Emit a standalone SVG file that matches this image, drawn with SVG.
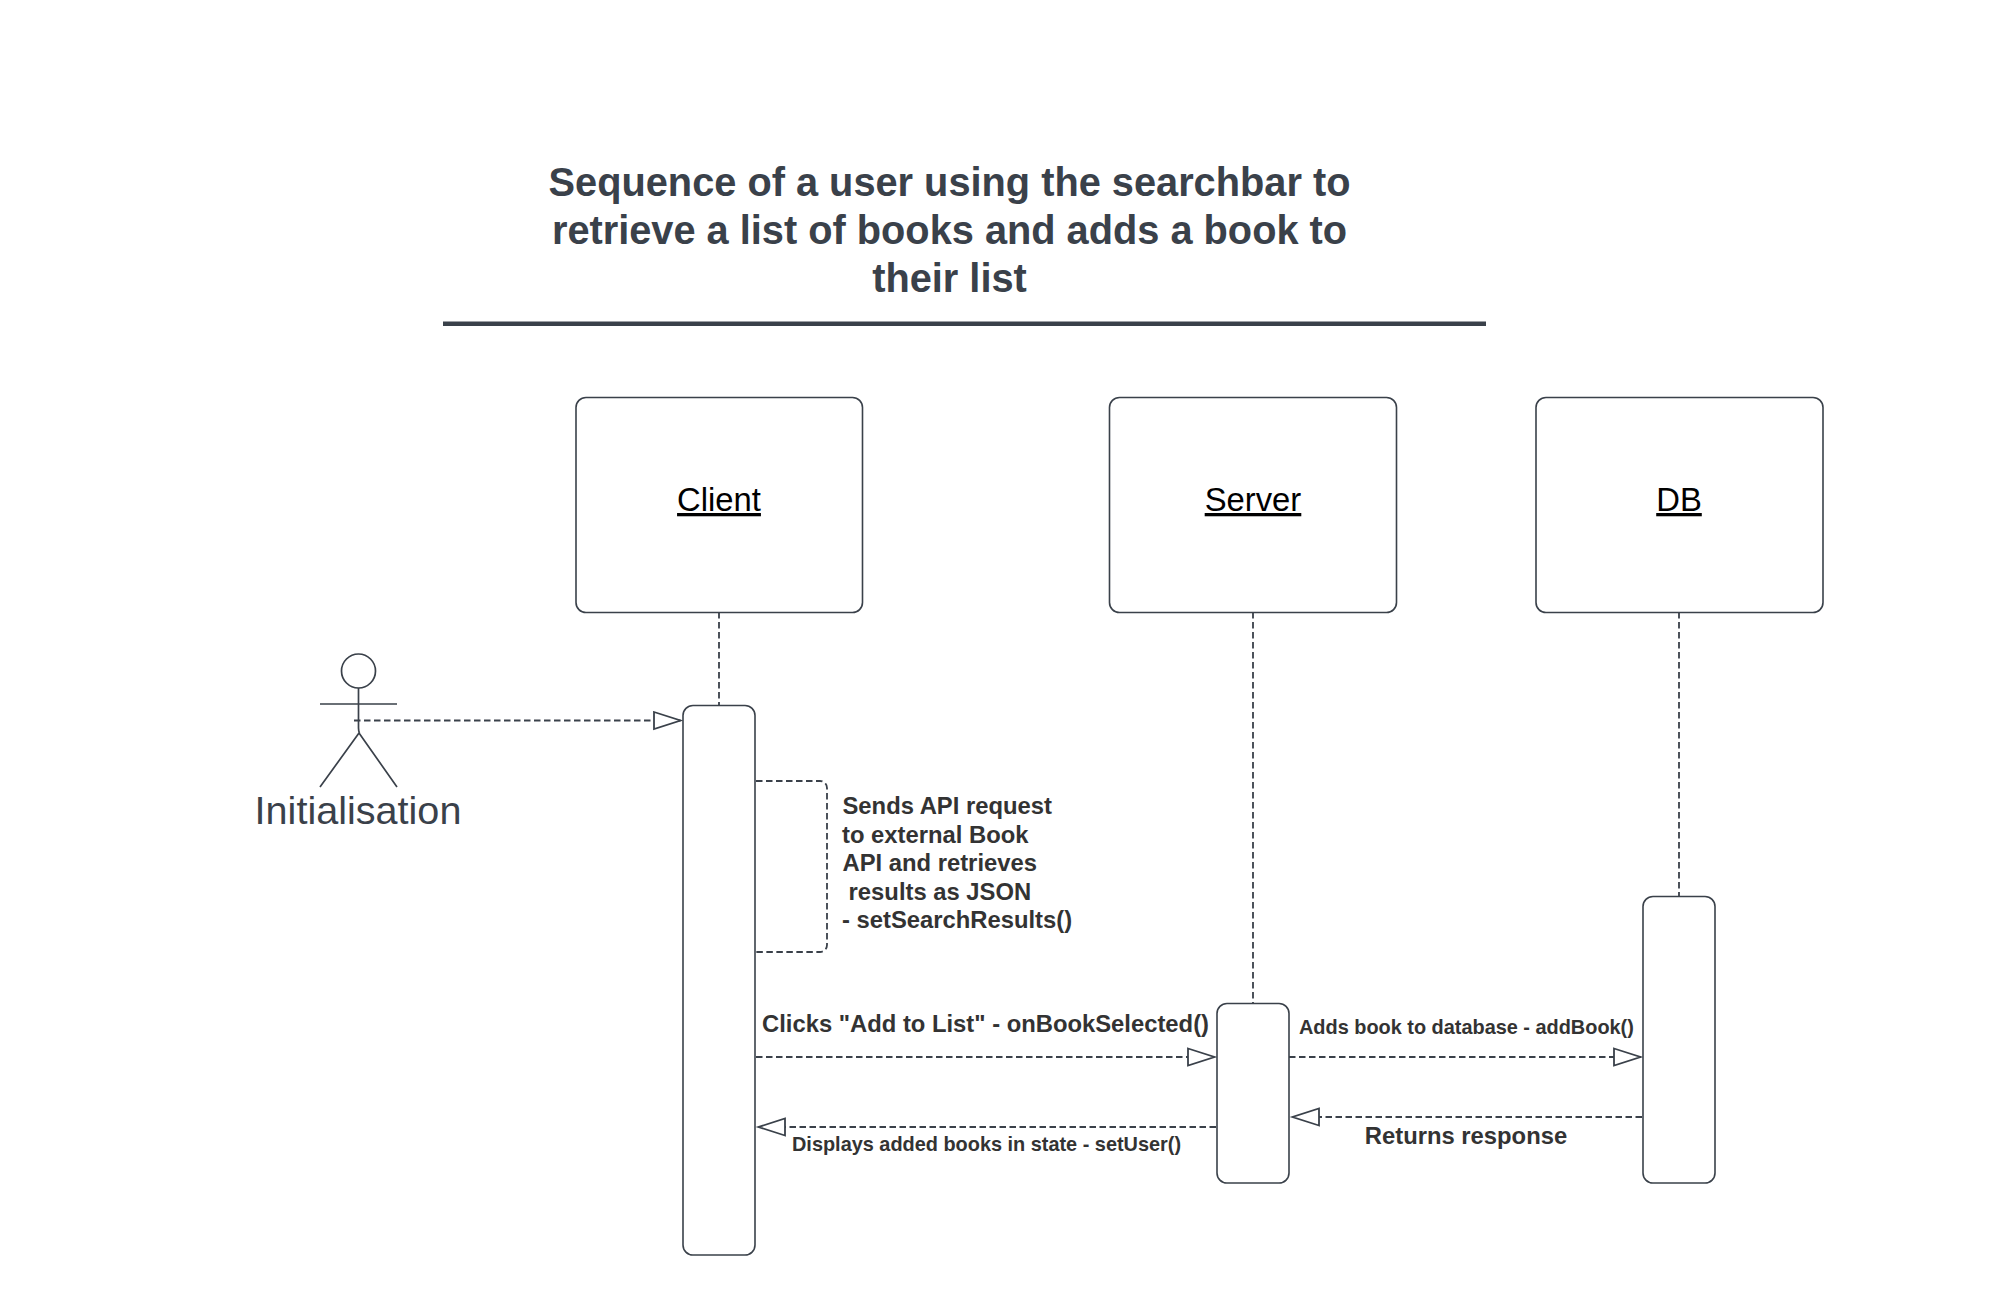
<svg xmlns="http://www.w3.org/2000/svg" width="1996" height="1290" viewBox="0 0 1996 1290">
<defs>
<marker id="tri" markerUnits="userSpaceOnUse" markerWidth="32" markerHeight="22" refX="28" refY="10" orient="auto-start-reverse" viewBox="0 0 32 22"><path d="M1 1.500 L27.500 10 L1 18.500 Z" fill="#fff" stroke="#3a414a" stroke-width="1.800"/></marker>
</defs>
<style>
text{font-family:"Liberation Sans",Arial,sans-serif}
.box{fill:#fff;stroke:#3a414a;stroke-width:1.600}
.conn{fill:none;stroke:#3a414a;stroke-width:1.800;stroke-dasharray:6.500 3.500}
.life{fill:none;stroke:#3a414a;stroke-width:1.800;stroke-dasharray:6.500 3.500}
.line{fill:none;stroke:#3a414a;stroke-width:1.700}
.t{font-size:39.750px;font-weight:700;fill:#3a414a;text-anchor:middle}
.n{font-size:32.800px;fill:#000;text-anchor:middle;text-decoration:underline}
.m{font-size:23.800px;font-weight:700;fill:#333}
.s{font-size:19.900px;font-weight:700;fill:#333}
</style>
<rect width="1996" height="1290" fill="#fff"/>
<g id="title">
<text class="t" x="949.500" y="196">Sequence of a user using the searchbar to</text>
<text class="t" x="949.500" y="244">retrieve a list of books and adds a book to</text>
<text class="t" x="949.500" y="292">their list</text>
<rect x="443" y="321.500" width="1043" height="4.500" fill="#3a414a"/>
</g>
<g id="connectors">
<path class="life" d="M719 612V705"/>
<path class="life" d="M1253 612V1003"/>
<path class="life" d="M1679 612V896"/>
<path class="conn" d="M354 720.500H681" marker-end="url(#tri)"/>
<path class="conn" d="M756 781H820a7 7 0 0 1 7 7V945a7 7 0 0 1-7 7H756"/>
<path class="conn" d="M756 1057H1215" marker-end="url(#tri)"/>
<path class="conn" d="M1289 1057H1641" marker-end="url(#tri)"/>
<path class="conn" d="M1642 1117H1292" marker-end="url(#tri)"/>
<path class="conn" d="M1216 1127H758" marker-end="url(#tri)"/>
</g>
<g id="actor">
<ellipse class="line" cx="358.500" cy="671" rx="17" ry="17"/>
<path class="line" d="M358.500 688V728q0 3 1 5M320 704H397M359 733L320 787M359 733L397 787"/>
<text x="358" y="824" font-size="39.600" fill="#3a414a" text-anchor="middle">Initialisation</text>
</g>
<g id="client">
<rect class="box" x="576" y="397.500" width="286.500" height="215" rx="10"/>
<text class="n" x="719" y="511">Client</text>
</g>
<g id="server">
<rect class="box" x="1109.500" y="397.500" width="287" height="215" rx="10"/>
<text class="n" x="1253" y="511">Server</text>
</g>
<g id="db">
<rect class="box" x="1536" y="397.500" width="287" height="215" rx="10"/>
<text class="n" x="1679" y="511">DB</text>
</g>
<g id="client-activation"><rect class="box" x="683" y="705.500" width="72" height="549.500" rx="10"/></g>
<g id="server-activation"><rect class="box" x="1217" y="1003.500" width="72" height="179.500" rx="10"/></g>
<g id="db-activation"><rect class="box" x="1643" y="896.500" width="72" height="286.500" rx="10"/></g>
<g id="labels">
<text class="m" x="842.500" y="814">Sends API request</text>
<text class="m" x="842" y="843">to external Book</text>
<text class="m" x="842.500" y="871">API and retrieves</text>
<text class="m" x="842" y="900" xml:space="preserve"> results as JSON</text>
<text class="m" x="842" y="928">- setSearchResults()</text>
<text class="m" x="762" y="1032">Clicks "Add to List" - onBookSelected()</text>
<text class="s" x="1299" y="1034">Adds book to database - addBook()</text>
<text class="m" x="1466" y="1143.500" text-anchor="middle">Returns response</text>
<text class="s" x="792" y="1151">Displays added books in state - setUser()</text>
</g>
</svg>
